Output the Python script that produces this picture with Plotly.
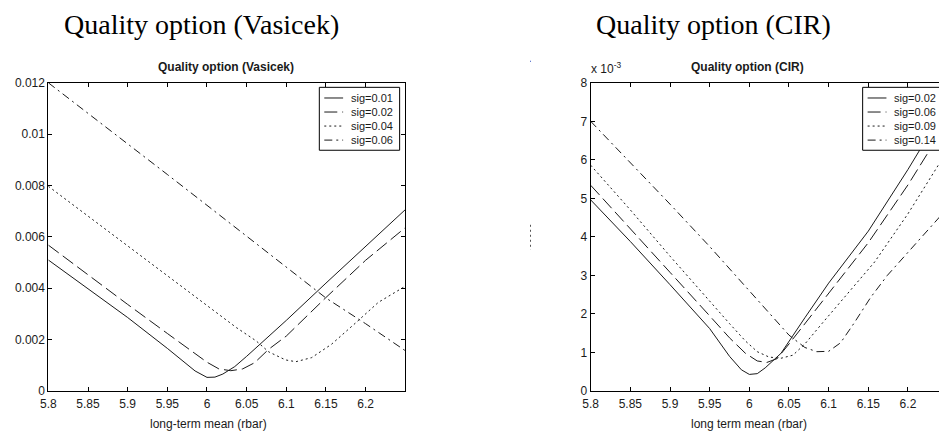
import plotly.graph_objects as go

# ---------------- data ----------------
# Vasicek model: quality option value vs long-term mean (rbar)
vas_labels = ["sig=0.01", "sig=0.02", "sig=0.04", "sig=0.06"]
vas_x_01 = [5.80, 5.85, 5.90, 5.95, 5.97, 5.985, 6.00, 6.01, 6.02, 6.035, 6.05, 6.10, 6.15, 6.20, 6.25]
vas_y_01 = [0.00510, 0.00398, 0.00286, 0.00166, 0.00115, 0.00078, 0.00053, 0.00054, 0.00066, 0.00095,
            0.00135, 0.00275, 0.00420, 0.00563, 0.00706]
vas_x_02 = [5.80, 5.85, 5.90, 5.95, 6.00, 6.015, 6.03, 6.045, 6.06, 6.078, 6.10, 6.15, 6.20, 6.25]
vas_y_02 = [0.00568, 0.00452, 0.00337, 0.00224, 0.00112, 0.00086, 0.00079, 0.00086, 0.00110, 0.00163,
            0.00214, 0.00364, 0.00509, 0.00636]
vas_x_04 = [5.80, 5.85, 5.90, 5.95, 6.00, 6.037, 6.062, 6.078, 6.099, 6.112, 6.132, 6.157, 6.187, 6.216, 6.25]
vas_y_04 = [0.00797, 0.00681, 0.00566, 0.00450, 0.00335, 0.00247, 0.00195, 0.00152, 0.00121, 0.00114,
            0.00130, 0.00182, 0.00264, 0.00345, 0.00408]
vas_x_06 = [5.80, 5.85, 5.90, 5.95, 6.00, 6.05, 6.10, 6.15, 6.20, 6.25]
vas_y_06 = [0.01200, 0.01082, 0.00963, 0.00843, 0.00723, 0.00603, 0.00482, 0.00362, 0.00262, 0.00157]

# CIR model (values in units of 1e-3)
cir_labels = ["sig=0.02", "sig=0.06", "sig=0.09", "sig=0.14"]
cir_x_02 = [5.80, 5.85, 5.90, 5.95, 5.975, 5.99, 6.00, 6.01, 6.02, 6.04, 6.07, 6.10, 6.15, 6.20, 6.25]
cir_y_02 = [4.96, 3.88, 2.76, 1.62, 0.90, 0.55, 0.43, 0.45, 0.60, 0.98, 1.90, 2.80, 4.15, 5.75, 7.45]
cir_x_06 = [5.80, 5.85, 5.90, 5.95, 5.975, 5.995, 6.01, 6.022, 6.035, 6.05, 6.08, 6.11, 6.15, 6.20, 6.25]
cir_y_06 = [5.34, 4.20, 3.08, 1.95, 1.38, 0.98, 0.78, 0.74, 0.84, 1.22, 2.00, 2.80, 3.85, 5.35, 7.00]
cir_x_09 = [5.80, 5.85, 5.90, 5.95, 5.975, 5.995, 6.01, 6.025, 6.04, 6.055, 6.07, 6.092, 6.125, 6.158, 6.20, 6.25]
cir_y_09 = [5.86, 4.70, 3.50, 2.32, 1.75, 1.30, 1.02, 0.88, 0.85, 0.93, 1.22, 1.76, 2.55, 3.35, 4.60, 6.25]
cir_x_14 = [5.80, 5.85, 5.90, 5.95, 6.00, 6.03, 6.05, 6.07, 6.085, 6.10, 6.115, 6.132, 6.153, 6.174, 6.20, 6.224, 6.25]
cir_y_14 = [7.00, 5.93, 4.85, 3.75, 2.60, 1.90, 1.45, 1.13, 1.02, 1.03, 1.25, 1.76, 2.43, 3.00, 3.60, 4.15, 4.75]

x_tickvals = [5.80, 5.85, 5.90, 5.95, 6.00, 6.05, 6.10, 6.15, 6.20]
x_ticktext = ["5.8", "5.85", "5.9", "5.95", "6", "6.05", "6.1", "6.15", "6.2"]
vas_tickvals = [0, 0.002, 0.004, 0.006, 0.008, 0.010, 0.012]
vas_ticktext = ["0", "0.002", "0.004", "0.006", "0.008", "0.01", "0.012"]
cir_tickvals = [0, 1, 2, 3, 4, 5, 6, 7, 8]
cir_ticktext = ["0", "1", "2", "3", "4", "5", "6", "7", "8"]

# ---------------- layout helpers ----------------
W, H = 939, 437
def px(x):
    return x / W
def py(y):
    return 1 - y / H

FONT = "Liberation Sans Narrow, Arial Narrow, Liberation Sans, Arial, sans-serif"
SERIF = "Liberation Serif, Times New Roman, serif"
INK = "#1a1a1a"
dashes = ["solid", "13px,5px", "2px,3px", "8px,4px,2px,4px"]

fig = go.Figure()

vas_series = [(vas_x_01, vas_y_01), (vas_x_02, vas_y_02), (vas_x_04, vas_y_04), (vas_x_06, vas_y_06)]
for (xs, ys), name, d in zip(vas_series, vas_labels, dashes):
    fig.add_trace(go.Scatter(x=xs, y=ys, mode="lines", name=name, xaxis="x", yaxis="y",
                             line=dict(color=INK, width=1, dash=d), showlegend=False))

cir_series = [(cir_x_02, cir_y_02), (cir_x_06, cir_y_06), (cir_x_09, cir_y_09), (cir_x_14, cir_y_14)]
for (xs, ys), name, d in zip(cir_series, cir_labels, dashes):
    fig.add_trace(go.Scatter(x=xs, y=ys, mode="lines", name=name, xaxis="x2", yaxis="y2",
                             line=dict(color=INK, width=1, dash=d), showlegend=False))

y_dom = [py(396.7), py(78.3)]
axis_common = dict(showline=True, linecolor="black", linewidth=1, ticks="inside", ticklen=4,
                   tickcolor="black", showgrid=False, zeroline=False,
                   tickfont=dict(family=FONT, size=12, color=INK))

fig.update_layout(
    width=W, height=H,
    margin=dict(l=0, r=0, t=0, b=0),
    paper_bgcolor="white", plot_bgcolor="white",
    showlegend=False,
    xaxis=dict(domain=[px(40.7), px(400.7)], range=[5.8, 6.25], anchor="y", mirror="ticks",
               tickvals=x_tickvals, ticktext=x_ticktext, ticklabelstandoff=2, **axis_common),
    yaxis=dict(domain=y_dom, range=[0, 0.012], anchor="x", mirror="ticks",
               tickvals=vas_tickvals, ticktext=vas_ticktext, **axis_common),
    xaxis2=dict(domain=[px(587.7), 1.0], range=[5.8, 5.8 + (W - 587.7) / 800], anchor="y2",
                mirror="ticks", tickvals=x_tickvals, ticktext=x_ticktext, ticklabelstandoff=2,
                **axis_common),
    yaxis2=dict(domain=y_dom, range=[0, 8], anchor="x2",
                tickvals=cir_tickvals, ticktext=cir_ticktext, **axis_common),
)

annotations = [
    # document-style headings
    dict(text="Quality option (Vasicek)", x=px(195), y=py(18), font=dict(family=SERIF, size=28, color="black")),
    dict(text="Quality option (CIR)", x=px(712), y=py(18), font=dict(family=SERIF, size=28, color="black")),
    # axes titles
    dict(text="<b>Quality option (Vasicek)</b>", x=px(220), y=py(62), font=dict(family=FONT, size=12, color=INK)),
    dict(text="<b>Quality option (CIR)</b>", x=px(746), y=py(62), font=dict(family=FONT, size=12, color=INK)),
    dict(text="long-term mean (rbar)", x=px(202.5), y=py(431), font=dict(family=FONT, size=12, color=INK)),
    dict(text="long term mean (rbar)", x=px(747), y=py(431), font=dict(family=FONT, size=12, color=INK)),
    dict(text="x 10<sup>-3</sup>", x=px(586), y=py(63), xanchor="left",
         font=dict(family=FONT, size=12, color=INK)),
]

shapes = []
# boxed legends drawn on top of the curves
legend_specs = [(314, 395, vas_labels), (862, 960, cir_labels)]
entry_y = [94, 108.5, 123, 137.5]
for left, right, labels in legend_specs:
    shapes.append(dict(type="rect", xref="paper", yref="paper", layer="above",
                       x0=px(left), x1=px(right), y0=py(148), y1=py(83),
                       line=dict(color="black", width=1), fillcolor="white"))
    for yy, lab, d in zip(entry_y, labels, dashes):
        shapes.append(dict(type="line", xref="paper", yref="paper", layer="above",
                           x0=px(left + 5), x1=px(left + 24), y0=py(yy), y1=py(yy),
                           line=dict(color=INK, width=1, dash=d)))
        annotations.append(dict(text=lab, x=px(left + 30), y=py(yy), xanchor="left",
                                font=dict(family=FONT, size=11, color=INK)))

for a in annotations:
    a.setdefault("xanchor", "center")
    a.update(xref="paper", yref="paper", yanchor="middle", showarrow=False)

# small marks in the gutter between the panels
shapes.append(dict(type="line", xref="paper", yref="paper", x0=px(527), x1=px(527), y0=py(225), y1=py(251),
                   line=dict(color="#555", width=1, dash="2px,3px")))
shapes.append(dict(type="rect", xref="paper", yref="paper", x0=px(526.5), x1=px(527.5), y0=py(56.5),
                   y1=py(55.5), line=dict(width=0), fillcolor="#3050c0"))

fig.update_layout(annotations=annotations, shapes=shapes)

fig.write_html("out.html")
